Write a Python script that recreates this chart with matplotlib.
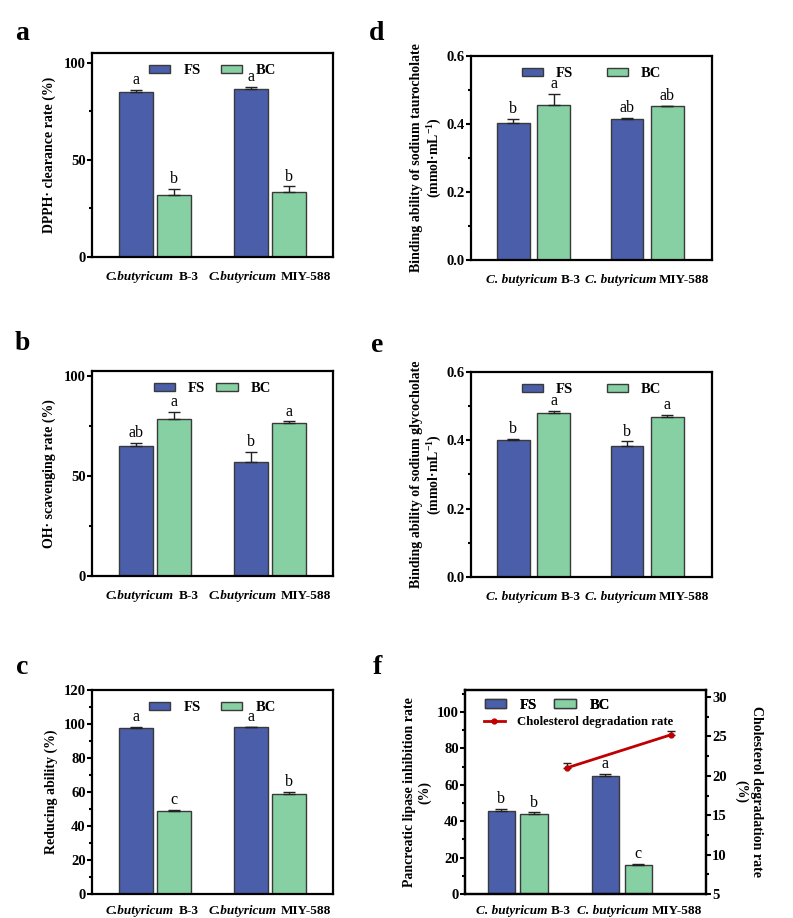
import numpy as np
import matplotlib
matplotlib.use("Agg")
import matplotlib.pyplot as plt
from matplotlib.ticker import MultipleLocator, AutoMinorLocator
from matplotlib.transforms import blended_transform_factory, offset_copy

plt.rcParams['font.family'] = ['Liberation Serif', 'DejaVu Serif']
plt.rcParams['font.weight'] = 'bold'
plt.rcParams['axes.labelweight'] = 'bold'
plt.rcParams['mathtext.fontset'] = 'custom'
plt.rcParams['mathtext.rm'] = 'Liberation Serif:bold'
plt.rcParams['mathtext.it'] = 'Liberation Serif:italic:bold'
plt.rcParams['mathtext.bf'] = 'Liberation Serif:bold'

# datos
especie_a = ["C.butyricum", "C.butyricum"]
especie_d = ["C. butyricum", "C. butyricum"]
cepas = ["B-3", "MIY-588"]

dpph_fs = [84.8, 86.5]
dpph_fs_err = [1.2, 1.0]
dpph_bc = [32.0, 33.2]
dpph_bc_err = [3.2, 3.2]
dpph_fs_let = ["a", "a"]
dpph_bc_let = ["b", "b"]

oh_fs = [65.0, 57.2]
oh_fs_err = [1.7, 5.0]
oh_bc = [78.3, 76.5]
oh_bc_err = [3.7, 0.9]
oh_fs_let = ["ab", "b"]
oh_bc_let = ["a", "a"]

red_fs = [97.8, 98.0]
red_fs_err = [0.4, 0.5]
red_bc = [48.6, 59.0]
red_bc_err = [1.1, 1.2]
red_fs_let = ["a", "a"]
red_bc_let = ["c", "b"]

tau_fs = [0.404, 0.416]
tau_fs_err = [0.011, 0.002]
tau_bc = [0.455, 0.452]
tau_bc_err = [0.034, 0.002]
tau_fs_let = ["b", "ab"]
tau_bc_let = ["a", "ab"]

gly_fs = [0.400, 0.382]
gly_fs_err = [0.004, 0.015]
gly_bc = [0.481, 0.469]
gly_bc_err = [0.006, 0.005]
gly_fs_let = ["b", "b"]
gly_bc_let = ["a", "a"]

lip_fs = [45.8, 65.0]
lip_fs_err = [1.1, 0.9]
lip_bc = [43.8, 15.9]
lip_bc_err = [1.0, 0.7]
lip_fs_let = ["b", "a"]
lip_bc_let = ["b", "c"]

chol = [21.0, 25.2]
chol_err = [0.6, 0.5]

azul = "#4a5eaa"
verde = "#86d0a3"
rojo = "#c00000"
borde = "#3a3a3a"

W, H = 793, 918
fig = plt.figure(figsize=(W / 100, H / 100), dpi=100)
rend = fig.canvas.get_renderer()


def ejes(x0, y0, x1, y1):
    return fig.add_axes([x0 / W, 1 - y1 / H, (x1 - x0) / W, (y1 - y0) / H])


def estilo_y(ax, mayor):
    ax.yaxis.set_major_locator(MultipleLocator(mayor))
    ax.yaxis.set_minor_locator(AutoMinorLocator(2))
    ax.tick_params(axis="y", which="major", direction="out", length=3.5, width=1.5, labelsize=10.5, pad=1)
    ax.tick_params(axis="y", which="minor", direction="out", length=2.5, width=1.5)
    for s in ax.spines.values():
        s.set_linewidth(1.6)


# etiqueta del eje x: nombre en cursiva + cepa en negrita
def etiquetas_x(ax, especies, nombres, hueco=4, size=9.5, bajo=23, corr=(0, 0)):
    trans = blended_transform_factory(ax.transData, ax.transAxes)
    for xc, esp, nom, dx in zip(range(len(especies)), especies, nombres, corr):
        t1 = ax.text(xc, 0, esp, transform=trans, fontsize=size, style="italic",
                     fontweight="bold", ha="left", va="baseline")
        t2 = ax.text(xc, 0, nom, transform=trans, fontsize=size,
                     fontweight="bold", ha="left", va="baseline")
        w1 = t1.get_window_extent(rend).width
        w2 = t2.get_window_extent(rend).width
        tot = w1 + hueco + w2
        t1.set_transform(offset_copy(trans, fig=fig, x=dx - tot / 2, y=-bajo, units="dots"))
        t2.set_transform(offset_copy(trans, fig=fig, x=dx - tot / 2 + w1 + hueco, y=-bajo, units="dots"))


def panel(ax, fs, fs_err, bc, bc_err, fs_let, bc_let, especies, ylim, mayor,
          ylabel, ancho=0.29, sep=0.17, xlim=(-0.55, 1.55), colsp=1.4,
          leyenda=True, dec=0, ylsize=10, lpad=2, hueco=4, bajo=23, corr=(0, 0)):
    x = np.arange(len(fs))
    ax.bar(x - sep, fs, ancho, color=azul, edgecolor=borde, linewidth=1.0, zorder=2)
    ax.bar(x + sep, bc, ancho, color=verde, edgecolor=borde, linewidth=1.0, zorder=2)
    ax.errorbar(x - sep, fs, yerr=[np.zeros(len(fs)), fs_err], fmt="none",
                ecolor="#222222", elinewidth=1.0, capsize=4, capthick=1.0, zorder=3)
    ax.errorbar(x + sep, bc, yerr=[np.zeros(len(bc)), bc_err], fmt="none",
                ecolor="#222222", elinewidth=1.0, capsize=4, capthick=1.0, zorder=3)
    off = (ylim[1] - ylim[0]) * 0.008
    for xi, v, e, t in zip(x - sep, fs, fs_err, fs_let):
        ax.text(xi, v + e + off, t, ha="center", va="bottom", fontsize=11.5, fontweight="normal")
    for xi, v, e, t in zip(x + sep, bc, bc_err, bc_let):
        ax.text(xi, v + e + off, t, ha="center", va="bottom", fontsize=11.5, fontweight="normal")
    ax.set_xlim(*xlim)
    ax.set_ylim(*ylim)
    estilo_y(ax, mayor)
    if dec:
        ax.yaxis.set_major_formatter(plt.FormatStrFormatter("%.1f"))
    ax.set_xticks(x)
    ax.set_xticklabels([])
    ax.tick_params(axis="x", length=0)
    etiquetas_x(ax, especies, cepas, hueco=hueco, bajo=bajo, corr=corr)
    ax.set_ylabel(ylabel, fontsize=ylsize, labelpad=lpad)
    if leyenda:
        ax.legend(["FS", "BC"], loc="upper center", ncol=2, frameon=False, fontsize=10.5,
                  handlelength=1.45, handleheight=0.5, handletextpad=0.9,
                  columnspacing=colsp, borderaxespad=0.35)


ax_a = ejes(92, 53, 333, 257)
panel(ax_a, dpph_fs, dpph_fs_err, dpph_bc, dpph_bc_err, dpph_fs_let, dpph_bc_let,
      especie_a, (0, 105), 50, "DPPH· clearance rate (%)", ancho=0.295, sep=0.165,
      colsp=1.4, ylsize=10, lpad=6, hueco=5, corr=(-3, 0))

ax_b = ejes(92, 371, 333, 576)
panel(ax_b, oh_fs, oh_fs_err, oh_bc, oh_bc_err, oh_fs_let, oh_bc_let,
      especie_a, (0, 102.5), 50, "OH· scavenging rate (%)", ancho=0.295, sep=0.165,
      colsp=0.75, ylsize=10, lpad=6, hueco=5, corr=(-3, 0))

ax_c = ejes(92, 690, 333, 894)
panel(ax_c, red_fs, red_fs_err, red_bc, red_bc_err, red_fs_let, red_bc_let,
      especie_a, (0, 120), 20, "Reducing ability (%)", ancho=0.295, sep=0.165,
      colsp=1.4, ylsize=10, lpad=4, hueco=5, bajo=20, corr=(-3, 0))

ax_d = ejes(471, 56, 712, 260)
panel(ax_d, tau_fs, tau_fs_err, tau_bc, tau_bc_err, tau_fs_let, tau_bc_let,
      especie_d, (0, 0.6), 0.2,
      "Binding ability of sodium taurocholate\n(mmol·mL$^{-1}$)",
      ancho=0.287, sep=0.178, xlim=(-0.55, 1.57), colsp=2.3, dec=1, lpad=2, hueco=3)

ax_e = ejes(471, 372, 712, 577)
panel(ax_e, gly_fs, gly_fs_err, gly_bc, gly_bc_err, gly_fs_let, gly_bc_let,
      especie_d, (0, 0.6), 0.2,
      "Binding ability of sodium glycocholate\n(mmol·mL$^{-1}$)",
      ancho=0.287, sep=0.178, xlim=(-0.55, 1.57), colsp=2.3, dec=1, lpad=2, hueco=3)

ax_f = ejes(465, 690, 706, 894)
panel(ax_f, lip_fs, lip_fs_err, lip_bc, lip_bc_err, lip_fs_let, lip_bc_let,
      especie_d, (0, 112), 20, "Pancreatic lipase inhibition rate\n(%)",
      ancho=0.26, sep=0.158, xlim=(-0.505, 1.81), leyenda=False, lpad=4, hueco=3,
      bajo=20, corr=(6, 18))
barras = ax_f.containers[:2]
ax_f2 = ax_f.twinx()
chol_x = np.arange(len(chol)) + 0.47
linea, = ax_f2.plot(chol_x, chol, color=rojo, lw=2, marker="o", ms=3.5, zorder=4)
ax_f2.errorbar(chol_x, chol, yerr=[np.zeros(len(chol)), chol_err], fmt="none",
               ecolor="#222222", elinewidth=1.0, capsize=3, capthick=1.0)
ax_f2.set_ylim(5, 30.9)
estilo_y(ax_f2, 5)
ax_f2.set_ylabel("Cholesterol degradation rate\n(%)", fontsize=10, rotation=270, labelpad=26)
leg1 = ax_f.legend(barras, ["FS", "BC"], loc="upper left", ncol=2, frameon=False, fontsize=10.5,
                   handlelength=1.5, handleheight=0.5, handletextpad=0.9, columnspacing=1.2,
                   bbox_to_anchor=(0.045, 1.0), borderaxespad=0.2)
ax_f.add_artist(leg1)
ax_f2.legend([linea], ["Cholesterol degradation rate"], loc="upper left", frameon=False,
             fontsize=9.2, handlelength=1.7, handletextpad=0.9,
             bbox_to_anchor=(0.045, 0.91), borderaxespad=0.2)

# letras de los paneles
for t, x, y in [("a", 22, 33), ("b", 22, 343), ("c", 22, 668),
                ("d", 377, 33), ("e", 377, 345), ("f", 377, 667)]:
    fig.text(x / W, 1 - y / H, t, fontsize=20, fontweight="bold", ha="center", va="center")

fig.savefig("out.png", dpi=100)
